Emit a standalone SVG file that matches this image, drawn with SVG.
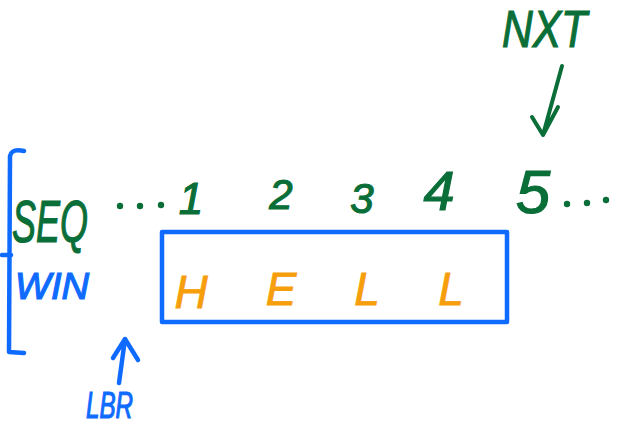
<svg xmlns="http://www.w3.org/2000/svg" width="629" height="429" viewBox="0 0 629 429">
<defs>
<style>
.g{fill:#0a6e38;stroke:#0a6e38;stroke-width:1.2;font-family:"Liberation Sans",Arial,sans-serif;font-style:italic}
.b{fill:#0f6bff;stroke:#0f6bff;stroke-width:1.2;font-family:"Liberation Sans",Arial,sans-serif;font-style:italic}
.o{fill:#f79e0c;stroke:#f79e0c;stroke-width:0.8;font-family:"Liberation Sans",Arial,sans-serif;font-style:italic}
.bl{fill:none;stroke:#0f6bff;stroke-width:4.5;stroke-linecap:round;stroke-linejoin:round}
.gl{fill:none;stroke:#0a6e38;stroke-width:4;stroke-linecap:round;stroke-linejoin:round}
</style>
</defs>
<rect width="629" height="429" fill="#ffffff"/>
<g id="bracket">
<path class="bl" d="M24 151 Q12 148 10 156 L9 352 L24 353"/>
<path class="bl" d="M2 255 L11 255"/>
</g>
<g id="seq-label"><text class="g" x="12" y="242" font-size="60" textLength="76" lengthAdjust="spacingAndGlyphs">SEQ</text></g>
<g id="win-label"><text class="b" x="15" y="299" font-size="36" textLength="74" lengthAdjust="spacingAndGlyphs">WIN</text></g>
<g id="dots-left" fill="#0a6e38"><circle cx="120" cy="206" r="3.2"/><circle cx="140" cy="206" r="3.2"/><circle cx="161" cy="205" r="3.2"/></g>
<g id="seq-numbers">
<text class="g" x="191" y="214" font-size="44" text-anchor="middle">1</text>
<text class="g" x="281" y="209" font-size="42" text-anchor="middle">2</text>
<text class="g" x="362" y="213" font-size="42" text-anchor="middle">3</text>
<text class="g" x="439" y="210" font-size="56" text-anchor="middle">4</text>
<text class="g" x="533" y="213" font-size="62" text-anchor="middle">5</text>
</g>
<g id="dots-right" fill="#0a6e38"><circle cx="567" cy="204" r="3.2"/><circle cx="587" cy="203" r="3.2"/><circle cx="606" cy="200" r="3.2"/></g>
<g id="window">
<rect class="bl" x="162" y="232" width="345" height="90"/>
<text class="o" x="191" y="308" font-size="46" text-anchor="middle">H</text>
<text class="o" x="281" y="305" font-size="46" text-anchor="middle">E</text>
<text class="o" x="367" y="305" font-size="46" text-anchor="middle">L</text>
<text class="o" x="451" y="305" font-size="46" text-anchor="middle">L</text>
</g>
<g id="nxt-label"><text class="g" x="502" y="47" font-size="52" textLength="85" lengthAdjust="spacingAndGlyphs">NXT</text></g>
<g id="lbr-label"><text class="b" x="86" y="418" font-size="36" textLength="47" lengthAdjust="spacingAndGlyphs">LBR</text></g>
<g id="connectors">
<path class="gl" d="M562 66 L543 135 M532 117 L543 135 L558 107"/>
<path class="bl" d="M119 383 L125 339 M113 358 L125 339 L138 360"/>
</g>
</svg>
